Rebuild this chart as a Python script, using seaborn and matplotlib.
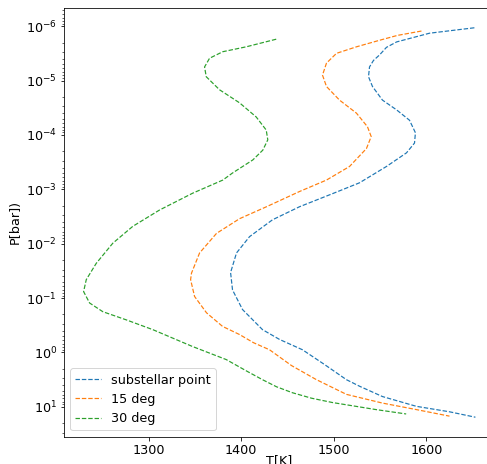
import numpy as np
import matplotlib
matplotlib.use("Agg")
import matplotlib.pyplot as plt
import seaborn as sns

# temperature profiles, top (low pressure) to bottom
# pressures kept as log10(P[bar])
sub_T = [1652, 1603.5, 1568, 1557, 1549.5, 1543, 1538.7, 1537.6, 1541.9, 1552.7,
         1568, 1581.9, 1588.3, 1587.3, 1578.6, 1557, 1527.9, 1498.7, 1463.1, 1433.9,
         1409.1, 1395, 1388.6, 1390.7, 1401.5, 1423.1, 1441.5, 1466.3, 1490, 1513.8,
         1527.9, 1552.7, 1589.4, 1625.1, 1653.1]
sub_logP = [-5.97, -5.87, -5.71, -5.61, -5.47, -5.37, -5.25, -5.07, -4.89, -4.64,
            -4.46, -4.27, -4.04, -3.85, -3.67, -3.42, -3.12, -2.92, -2.68, -2.44,
            -2.13, -1.83, -1.47, -1.15, -0.79, -0.42, -0.24, -0.05, 0.22, 0.50,
            0.62, 0.81, 0.99, 1.09, 1.19]

d15_T = [1594.8, 1568.9, 1549.5, 1524.6, 1503, 1492.2, 1487.9, 1492.2, 1506.3, 1524.6,
         1536.5, 1540.5, 1535.4, 1517.1, 1492.2, 1463.1, 1427.4, 1398.3, 1373.4, 1355.1,
         1346.4, 1345.4, 1349.7, 1362.6, 1379.9, 1398.3, 1413.4, 1430.7, 1454.4, 1481.4,
         1513.8, 1552.7, 1589.4, 1625.1]
d15_logP = [-5.91, -5.83, -5.74, -5.62, -5.50, -5.32, -5.10, -4.89, -4.64, -4.40,
            -4.15, -3.97, -3.75, -3.42, -3.17, -2.96, -2.68, -2.46, -2.19, -1.83,
            -1.46, -1.34, -1.03, -0.73, -0.48, -0.33, -0.18, -0.05, 0.24, 0.50,
            0.77, 0.93, 1.05, 1.17]

d30_T = [1437.9, 1405.5, 1380.2, 1365.9, 1360.5, 1362.3, 1376.7, 1398.3, 1416.3, 1427.1,
         1428.8, 1423.4, 1412.6, 1390.7, 1380.2, 1347.8, 1311.9, 1283, 1261.4, 1243.5,
         1232.7, 1229.8, 1236.3, 1250.6, 1275.9, 1304.6, 1328.1, 1347.5, 1383.9, 1406.9,
         1423.1, 1438.2, 1455.5, 1476, 1498.7, 1545.9, 1578.3]
d30_logP = [-5.76, -5.62, -5.53, -5.41, -5.25, -5.07, -4.83, -4.59, -4.33, -4.09,
            -3.91, -3.72, -3.54, -3.30, -3.17, -2.93, -2.62, -2.32, -2.01, -1.64,
            -1.34, -1.12, -0.91, -0.75, -0.60, -0.42, -0.25, -0.11, 0.13, 0.35,
            0.50, 0.63, 0.74, 0.84, 0.92, 1.05, 1.13]

labels = ["substellar point", "15 deg", "30 deg"]

plt.rcParams["font.size"] = 12.7

fig = plt.figure(figsize=(487 / 72, 464 / 72), dpi=72)
ax = fig.add_axes([64 / 487, 27.3 / 464, 431 / 487, 428.4 / 464])

profiles = [(sub_T, sub_logP), (d15_T, d15_logP), (d30_T, d30_logP)]
for (T, logP), lab in zip(profiles, labels):
    sns.lineplot(x=T, y=10.0 ** np.array(logP), sort=False, estimator=None,
                 linestyle="--", linewidth=1.2, label=lab, ax=ax)

ax.set_yscale("log")
ax.invert_yaxis()
ax.set_xlabel("T[K]", labelpad=-3)
ax.set_ylabel("P[bar])")
ax.legend(loc="lower left")

plt.savefig("out.png", dpi=72)
plt.close()
